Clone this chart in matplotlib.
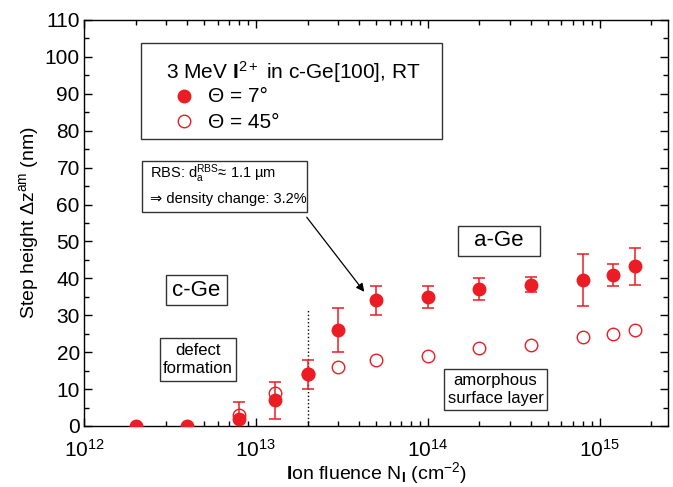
import numpy as np
import matplotlib
matplotlib.use('Agg')
import matplotlib.pyplot as plt
from matplotlib.patches import Rectangle
from matplotlib.ticker import LogLocator, MultipleLocator, NullFormatter

plt.rcParams['font.family'] = ['Liberation Sans', 'DejaVu Sans']
plt.rcParams['mathtext.fontset'] = 'custom'
plt.rcParams['mathtext.rm'] = 'Liberation Sans'
plt.rcParams['mathtext.it'] = 'Liberation Sans:italic'
plt.rcParams['mathtext.bf'] = 'Liberation Sans:bold'

# theta = 7 deg (filled)
fluence_7 = [2e12, 4e12, 8e12, 1.3e13, 2e13, 3e13, 5e13, 1e14, 2e14, 4e14, 8e14, 1.2e15, 1.6e15]
step_7 = [0, 0, 2, 7, 14, 26, 34, 35, 37, 38.3, 39.5, 41, 43.3]
err_7 = [0, 0, 4.5, 5, 4, 6, 4, 3, 3, 2, 7, 3, 5]

# theta = 45 deg (open)
fluence_45 = [8e12, 1.3e13, 2e13, 3e13, 5e13, 1e14, 2e14, 4e14, 8e14, 1.2e15, 1.6e15]
step_45 = [3, 9, 14, 16, 18, 19, 21, 22, 24, 25, 26]

red = '#ec1c24'
W, H = 673, 487

fig = plt.figure(figsize=(6.73, 4.87), dpi=100)
ax = fig.add_axes([0.1248, 0.1253, 0.8678, 0.8337])

ax.errorbar(fluence_7, step_7, yerr=err_7, fmt='o', color=red, ms=9,
            ecolor=red, elinewidth=1.1, capsize=4, capthick=1.1, zorder=3)
ax.plot(fluence_45, step_45, 'o', mfc='white', mec=red, ms=9, mew=1.0, zorder=2)

ax.set_xscale('log')
ax.set_xlim(1e12, 2.5e15)
ax.set_ylim(0, 110)
ax.yaxis.set_major_locator(MultipleLocator(10))
ax.yaxis.set_minor_locator(MultipleLocator(5))
ax.xaxis.set_major_locator(LogLocator(base=10, numticks=10))
ax.xaxis.set_minor_locator(LogLocator(base=10, subs=np.arange(2, 10), numticks=20))
ax.xaxis.set_minor_formatter(NullFormatter())
ax.tick_params(which='both', direction='in', top=True, right=True, labelsize=15,
               width=1.0)
ax.tick_params(which='major', length=6)
ax.tick_params(which='minor', length=3.5)
ax.tick_params(axis='x', pad=9)
ax.tick_params(axis='y', pad=3)
for s in ax.spines.values():
    s.set_linewidth(1.0)

ax.set_xlabel(r'$\mathbf{I}$on fluence N$_\mathbf{I}$ (cm$^{-2}$)', fontsize=14, labelpad=0)
ax.set_ylabel(r'Step height $\Delta$z$^{\mathregular{am}}$ (nm)', fontsize=14, labelpad=3)

# dotted threshold line
ax.plot([2e13, 2e13], [0, 31.5], ls=':', color='black', lw=1.0, zorder=1)


def px_rect(x0, y0, x1, y1):
    # box in figure pixel coords, origin top-left
    r = Rectangle((x0 / W, 1 - y1 / H), (x1 - x0) / W, (y1 - y0) / H,
                  transform=fig.transFigure, fc='white', ec='#333333', lw=1.0,
                  zorder=4)
    fig.patches.append(r)


def px_text(x, y, s, **kw):
    fig.text(x / W, 1 - y / H, s, zorder=5, **kw)


# legend box
px_rect(141, 43, 442, 139)
px_text(166, 72, r'3 MeV $\mathbf{I}^{2+}$ in c-Ge[100], RT', fontsize=15, va='center')
fig.lines.append(plt.Line2D([184 / W], [1 - 96 / H], marker='o', ms=9,
                            color=red, transform=fig.transFigure, zorder=6))
fig.lines.append(plt.Line2D([184 / W], [1 - 121 / H], marker='o', ms=9,
                            mfc='white', mec=red, mew=1.0, transform=fig.transFigure, zorder=6))
px_text(208, 96, '\u0398 = 7\u00b0', fontsize=15, va='center')
px_text(208, 122, '\u0398 = 45\u00b0', fontsize=15, va='center')

# RBS note
px_rect(142, 161, 307, 212)
px_text(150, 174, 'RBS: d$_\\mathregular{a}^\\mathregular{RBS}$\u2248 1.1 \u00b5m',
        fontsize=10.5, va='center')
px_text(150, 199, '\u21d2 density change: 3.2%', fontsize=10.5, va='center')

ax.annotate('', xy=(366 / W, 1 - 294 / H), xytext=(305 / W, 1 - 215 / H),
            xycoords='figure fraction', textcoords='figure fraction',
            arrowprops=dict(arrowstyle='-|>', color='black', lw=0.9, mutation_scale=12))

px_rect(458, 226, 540, 256)
px_text(499, 241, 'a-Ge', fontsize=16, ha='center', va='center')
px_rect(166, 275, 227, 305)
px_text(196.5, 290, 'c-Ge', fontsize=16, ha='center', va='center')
px_rect(160, 338, 236, 381)
px_text(198, 359.5, 'defect\nformation', fontsize=12, ha='center', va='center', linespacing=1.3)
px_rect(444, 369, 547, 410)
px_text(495.5, 389.5, 'amorphous\nsurface layer', fontsize=12, ha='center', va='center', linespacing=1.3)

fig.savefig('out.png', dpi=100)
